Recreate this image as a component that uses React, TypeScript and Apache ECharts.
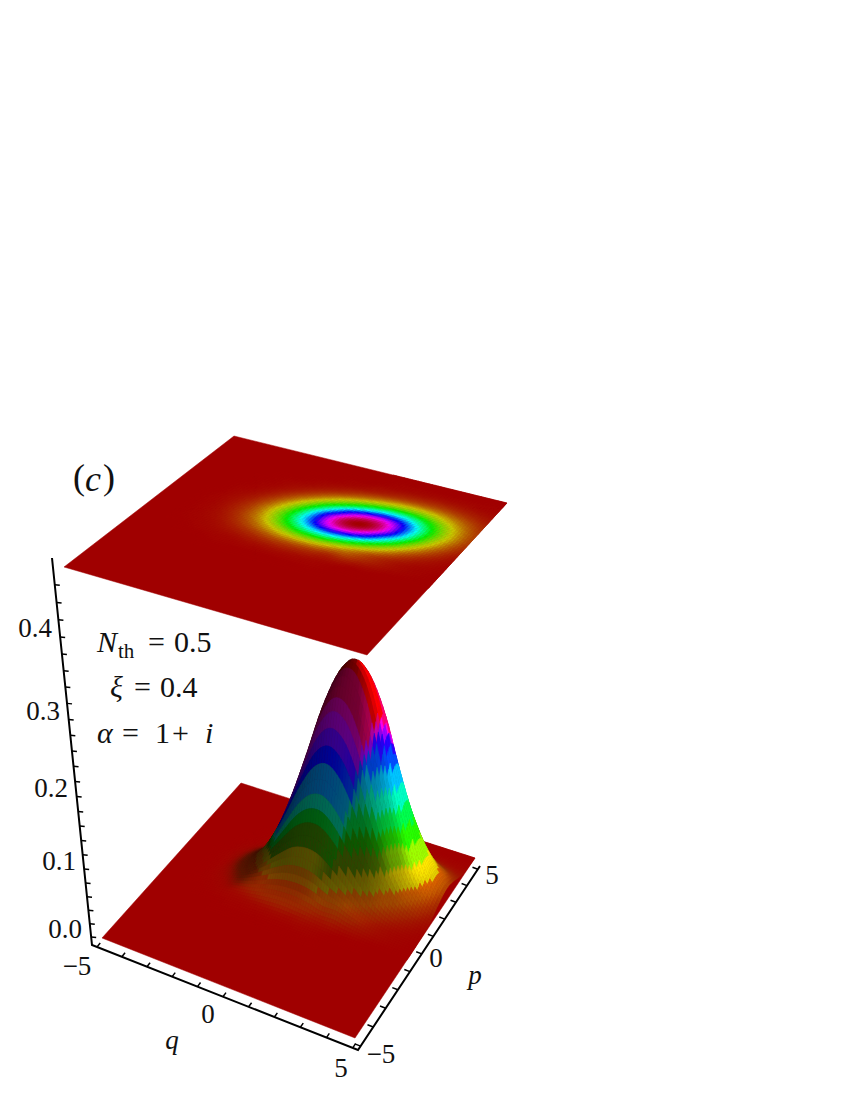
import React, { useEffect, useRef } from "react";
import * as echarts from "echarts";

const qGrid = [-5,-4.5,-4,-3.5,-3,-2.5,-2,-1.5,-1,-0.5,0,0.5,1,1.5,2,2.5,3,3.5,4,4.5,5];
const pGrid = [-5,-4.5,-4,-3.5,-3,-2.5,-2,-1.5,-1,-0.5,0,0.5,1,1.5,2,2.5,3,3.5,4,4.5,5];
const surfaceRows = [
[0,0,0,0,0,0,0,0,0,0,0,0,0,0,0,0,0,0,0,0,0],
[0,0,0,0,0,0,0,0,0,0,0,0,0,0,0,0,0,0,0,0,0],
[0,0,0,0,0,0,0,0,0,0,0,0,0,0,0,0,0,0,0,0,0],
[0,0,0,0,0,0,0,0,0,0,0,0,0,0,0,0,0,0,0,0,0],
[0,0,0,0,0,0,0,0,0,0,0,0,0,0,0,0,0,0,0,0,0],
[0,0,0,0,0,0,0,0,0,0,0,0,0,0,0,0,0,0,0,0,0],
[0,0,0,0,0,0,0,0,0,0,0,0,0,0,0,0,0,0,0,0,0],
[0,0,0,0,0,0,.001,.001,.001,.001,.001,.001,.001,.001,0,0,0,0,0,0,0],
[0,0,0,0,.001,.002,.003,.004,.006,.007,.008,.007,.006,.004,.003,.001,.001,0,0,0,0],
[0,0,0,.001,.002,.004,.008,.013,.019,.025,.028,.028,.025,.019,.019,.013,.008,.004,.002,.001,0],
[0,0,0,.001,.003,.007,.015,.027,.043,.060,.075,.081,.078,.065,.048,.031,.018,.009,.004,.002,.001],
[0,0,0,.001,.003,.009,.020,.039,.068,.104,.140,.165,.171,.155,.124,.087,.054,.029,.014,.006,.002],
[0,0,0,.001,.003,.008,.019,.041,.077,.127,.185,.242,.272,.268,.232,.172,.115,.067,.035,.016,.006],
[0,0,0,0,.002,.005,.013,.030,.061,.110,.173,.245,.298,.318,.298,.245,.173,.110,.061,.030,.013],
[0,0,0,0,.001,.002,.006,.016,.035,.067,.115,.172,.232,.268,.272,.242,.185,.127,.077,.041,.019],
[0,0,0,0,0,.001,.002,.006,.014,.029,.054,.087,.124,.155,.171,.165,.140,.104,.068,.039,.020],
[0,0,0,0,0,0,.001,.002,.004,.009,.018,.031,.048,.065,.078,.081,.075,.060,.043,.027,.015],
[0,0,0,0,0,0,0,0,.001,.002,.004,.008,.013,.019,.025,.028,.028,.025,.019,.013,.008],
[0,0,0,0,0,0,0,0,0,0,.001,.001,.003,.004,.006,.007,.008,.007,.006,.004,.003],
[0,0,0,0,0,0,0,0,0,0,0,0,0,.001,.001,.001,.001,.001,.001,.001,.001],
[0,0,0,0,0,0,0,0,0,0,0,0,0,0,0,0,0,0,0,0,0],
];
const qTicks = [-5,-4,-3,-2,-1,0,1,2,3,4,5];
const pTicks = [-5,-4,-3,-2,-1,0,1,2,3,4,5];
const zTicks = [0,0.02,0.04,0.06,0.08,0.1,0.12,0.14,0.16,0.18,0.2,0.22,0.24,0.26,0.28,0.3,0.32,0.34,0.36,0.38,0.4,0.42,0.44,0.46];
const SERIF = "'Liberation Serif', serif";

type P = [number, number];
function homography(c: P[]) {
  const [[x0,y0],[x1,y1],[x2,y2],[x3,y3]] = c;
  const dx1=x1-x2, dx2=x3-x2, sx=x0-x1+x2-x3, dy1=y1-y2, dy2=y3-y2, sy=y0-y1+y2-y3;
  const den=dx1*dy2-dx2*dy1;
  const g=(sx*dy2-dx2*sy)/den, h=(dx1*sy-sx*dy1)/den;
  const a=x1-x0+g*x1, b=x3-x0+h*x3, d=y1-y0+g*y1, e=y3-y0+h*y3;
  return (u:number,v:number):P=>{const w=g*u+h*v+1;return [(a*u+b*v+x0)/w,(d*u+e*v+y0)/w];};
}
const bottomH = homography([[102,938],[355,1038],[475,858],[241,783]]);
const topH = homography([[64,567],[367,655],[507,503],[234,436]]);
const frameH = homography([[92,945],[358,1050],[480,866],[233,775]]);
const FR = 5.2;
const frame = (q:number,p:number)=>frameH((q+FR)/(2*FR),(p+FR)/(2*FR));
const ZTOP = 0.48;
const depth = (z:number)=>660*z/(1-0.3*z);
const lift = (z:number)=>depth(z)/depth(ZTOP);
function project(q:number,p:number,z:number):P{
  const u=(q+5)/10,v=(p+5)/10;
  const a=bottomH(u,v),b=topH(u,v),t=lift(z);
  return [a[0]+(b[0]-a[0])*t,a[1]+(b[1]-a[1])*t];
}
function zAxisPoint(z:number):P{
  const y=937-depth(z);
  const t=(945-y)/(945-558);
  return [92-40*t,y];
}
const cr=(a:number,b:number,c:number,d:number,t:number)=>0.5*(2*b+(c-a)*t+(2*a-5*b+4*c-d)*t*t+(3*b-a-3*c+d)*t*t*t);
const n=qGrid.length;
const cell=(i:number,j:number)=>surfaceRows[Math.max(0,Math.min(n-1,j))][Math.max(0,Math.min(n-1,i))];
function zAt(q:number,p:number){
  const x=Math.max(0,Math.min(n-1.0001,(q+5)/0.5)),y=Math.max(0,Math.min(n-1.0001,(p+5)/0.5));
  const i=Math.floor(x),j=Math.floor(y),tx=x-i,ty=y-j;
  const row=(jj:number)=>cr(cell(i-1,jj),cell(i,jj),cell(i+1,jj),cell(i+2,jj),tx);
  return Math.max(0,cr(row(j-1),row(j),row(j+1),row(j+2),ty));
}
const PEAK=Math.max(...surfaceRows.map((r)=>Math.max(...r)));
function hsv(h:number,v:number){
  const k=(m:number)=>{const a=(m+h*6)%6;return v*(1-Math.max(0,Math.min(a,4-a,1)));};
  return `rgb(${Math.round(k(5)*255)},${Math.round(k(3)*255)},${Math.round(k(1)*255)})`;
}
const SS=(x:number)=>{const w=Math.max(0,Math.min(1,x));return w*w*(3-2*w);};
const STEP=0.1;
const DELTA=PEAK/13;
const HUE_R=[0,0.1,0.2,0.3,0.45,0.6,0.8,1];
const HUE_H=[0,0.07,0.12,0.25,0.45,0.65,0.82,1];
function frontHue(r:number){
  for(let i=1;i<HUE_R.length;i++)if(r<=HUE_R[i]){
    const a=(r-HUE_R[i-1])/(HUE_R[i]-HUE_R[i-1]);
    return HUE_H[i-1]+(HUE_H[i]-HUE_H[i-1])*a;
  }
  return 1;
}
const apexCache=new Map<number,[number,number]>();
function apexOf(p:number):[number,number]{
  const hit=apexCache.get(p);
  if(hit)return hit;
  let best=0,bq=0;
  for(let q=-5;q<=5;q+=0.025){const z=zAt(q,p);if(z>best){best=z;bq=q;}}
  const r:[number,number]=[best,bq];
  apexCache.set(p,r);
  return r;
}
function surfaceColor(q:number,p:number){
  const z=zAt(q,p);
  const [apex,qs]=apexOf(p);
  const w=SS((1.2-(q-qs))/1.0);
  const k=1+1.5*w*SS(z/0.1);
  let t=Math.min(apex,k*z);
  if(t>DELTA) t=Math.round(t/DELTA)*DELTA;
  const e=0.12;
  const sq=(zAt(q+e,p)-zAt(q-e,p))/(2*e);
  const sp=(zAt(q,p+e)-zAt(q,p-e))/(2*e);
  const g=Math.hypot(sq,sp);
  const c=g>1e-6?-sq/g:0;
  const left=SS((-0.3-c)/0.4);
  const fade=left+(1-left)*SS(z/0.06);
  const m=Math.tanh(g/0.02)*SS(z/0.012)*fade;
  const f=c<0.45?0.45+(c-0.45)*0.15:Math.min(1,0.45+(c-0.45)*1.22);
  const r=t/PEAK;
  const h=Math.max(r+(frontHue(r)-r)*w,0.045*SS(z/0.015));
  const br=SS((c-0.45)/0.45);
  const blue=Math.max(0,1-Math.abs(h-0.68)/0.16);
  const green=Math.max(0,1-Math.abs(h-0.24)/0.16);
  const v=Math.min(1,(0.63+m*(f-0.63))*(1+(0.5*blue-0.4*green)*(1-br)));
  return hsv(Math.min(0.999,h),v);
}
function topColor(q:number,p:number){
  const t=Math.min(0.999,zAt(q,p)/PEAK);
  let v=Math.min(1,0.63+0.95*t);
  if(t>0.8) v=1-0.37*(t-0.8)/0.2;
  return hsv(t,v);
}
function activeCells(){
  const out:number[][]=[];
  const sub=Math.round(0.5/STEP);
  for(let j=0;j<n-1;j++)for(let i=0;i<n-1;i++){
    if(cell(i,j)+cell(i+1,j)+cell(i,j+1)+cell(i+1,j+1)===0)continue;
    for(let b=0;b<sub;b++)for(let a=0;a<sub;a++)out.push([qGrid[i]+a*STEP,pGrid[j]+b*STEP]);
  }
  return out.sort((m,o)=>(m[0]-2.1*m[1])-(o[0]-2.1*o[1]));
}
const hidden={show:false};

export default function App(){
  const ref=useRef<HTMLDivElement>(null);
  useEffect(()=>{
    document.body.style.margin="0";
    const chart=echarts.init(ref.current!,undefined,{renderer:"svg"});
    const cells=activeCells();
    const poly=(api:any,pts:P[],color:string)=>({type:"polygon",shape:{points:pts.map((c)=>api.coord(c))},style:{fill:color,stroke:color,lineWidth:0.5}});
    const corners=(q:number,p:number):[number,number][]=>[[q,p],[q+STEP,p],[q+STEP,p+STEP],[q,p+STEP]];
    const series:any[]=[
      {type:"custom",silent:true,progressive:0,clip:false,data:[[0]],renderItem:(_:any,api:any)=>poly(api,[[-5,-5],[5,-5],[5,5],[-5,5]].map(([q,p])=>project(q,p,ZTOP)),"rgb(160,0,0)")},
      {type:"custom",silent:true,progressive:0,clip:false,data:cells,renderItem:(_:any,api:any)=>{
        const q=api.value(0),p=api.value(1);
        return poly(api,corners(q,p).map(([a,b])=>project(a,b,ZTOP)),topColor(q+STEP/2,p+STEP/2));
      }},
      {type:"custom",silent:true,progressive:0,clip:false,data:[[0]],renderItem:(_:any,api:any)=>poly(api,[[-5,-5],[5,-5],[5,5],[-5,5]].map(([q,p])=>project(q,p,0)),"rgb(160,0,0)")},
      {type:"custom",silent:true,progressive:0,clip:false,data:cells,renderItem:(_:any,api:any)=>{
        const q=api.value(0),p=api.value(1);
        return poly(api,corners(q,p).map(([a,b])=>project(a,b,zAt(a,b))),surfaceColor(q+STEP/2,p+STEP/2));
      }},
      {type:"custom",silent:true,progressive:0,clip:false,data:[[0]],renderItem:(_:any,api:any)=>({type:"polyline",shape:{points:[[52,558],[92,945],frame(FR,-FR),frame(FR,FR)].map((c)=>api.coord(c))},style:{fill:"none",stroke:"#000",lineWidth:2}})},
      {type:"custom",silent:true,progressive:0,clip:false,data:qTicks.map((v)=>[v]),renderItem:(_:any,api:any)=>{
        const v=api.value(0);
        const a=api.coord(frame(v,-FR)),b=api.coord(frame(v,-FR+0.22));
        return {type:"line",shape:{x1:a[0],y1:a[1],x2:b[0],y2:b[1]},style:{stroke:"#000",lineWidth:1.5}};
      }},
      {type:"custom",silent:true,progressive:0,clip:false,data:pTicks.map((v)=>[v]),renderItem:(_:any,api:any)=>{
        const v=api.value(0);
        const a=api.coord(frame(FR,v)),b=api.coord(frame(FR-0.22,v));
        return {type:"line",shape:{x1:a[0],y1:a[1],x2:b[0],y2:b[1]},style:{stroke:"#000",lineWidth:1.5}};
      }},
      {type:"custom",silent:true,progressive:0,clip:false,data:zTicks.map((v)=>[v]),renderItem:(_:any,api:any)=>{
        const c=zAxisPoint(api.value(0));
        const a=api.coord(c),b=api.coord([c[0]+5,c[1]+0.5]);
        return {type:"line",shape:{x1:a[0],y1:a[1],x2:b[0],y2:b[1]},style:{stroke:"#000",lineWidth:1.5}};
      }},
    ];
    const T=(text:string,x:number,y:number,size=27,italic=false,align="left")=>({type:"text",x,y,silent:true,style:{text,fill:"#111",font:`${italic?"italic ":""}${size}px ${SERIF}`,textAlign:align,textVerticalAlign:"middle"}});
    const graphics=[
      T("(",73,477,36),T("c",85,479,36,true),T(")",103,477,36),
      T("N",97,641,30,true),T("th",118,651,21),T("=",148,641,30),T("0.5",174,641,30),
      T("ξ",110,686,30,true),T("=",134,686,30),T("0.4",160,686,30),
      T("α",97,732,30,true),T("=",122,732,30),T("1",155,732,30),T("+",172,732,30),T("i",205,732,30,true),
      T("0.4",35,628,27,false,"center"),T("0.3",43,711,27,false,"center"),T("0.2",51,788,27,false,"center"),T("0.1",59,861,27,false,"center"),T("0.0",65,929,27,false,"center"),
      T("−5",77,966,27,false,"center"),T("0",208,1014,27,false,"center"),T("5",341,1068,27,false,"center"),T("q",172,1040,27,true,"center"),
      T("−5",381,1054,27,false,"center"),T("0",436,958,27,false,"center"),T("5",492,875,27,false,"center"),T("p",475,975,27,true,"center"),
    ];
    chart.setOption({
      animation:false,
      grid:{left:0,right:0,top:0,bottom:0},
      xAxis:{type:"value",min:0,max:850,...hidden},
      yAxis:{type:"value",min:0,max:1100,inverse:true,...hidden},
      series,
      graphic:graphics,
    });
    return ()=>chart.dispose();
  },[]);
  return <div ref={ref} style={{position:"absolute",left:0,top:0,width:850,height:1100,background:"#fff"}}/>;
}
